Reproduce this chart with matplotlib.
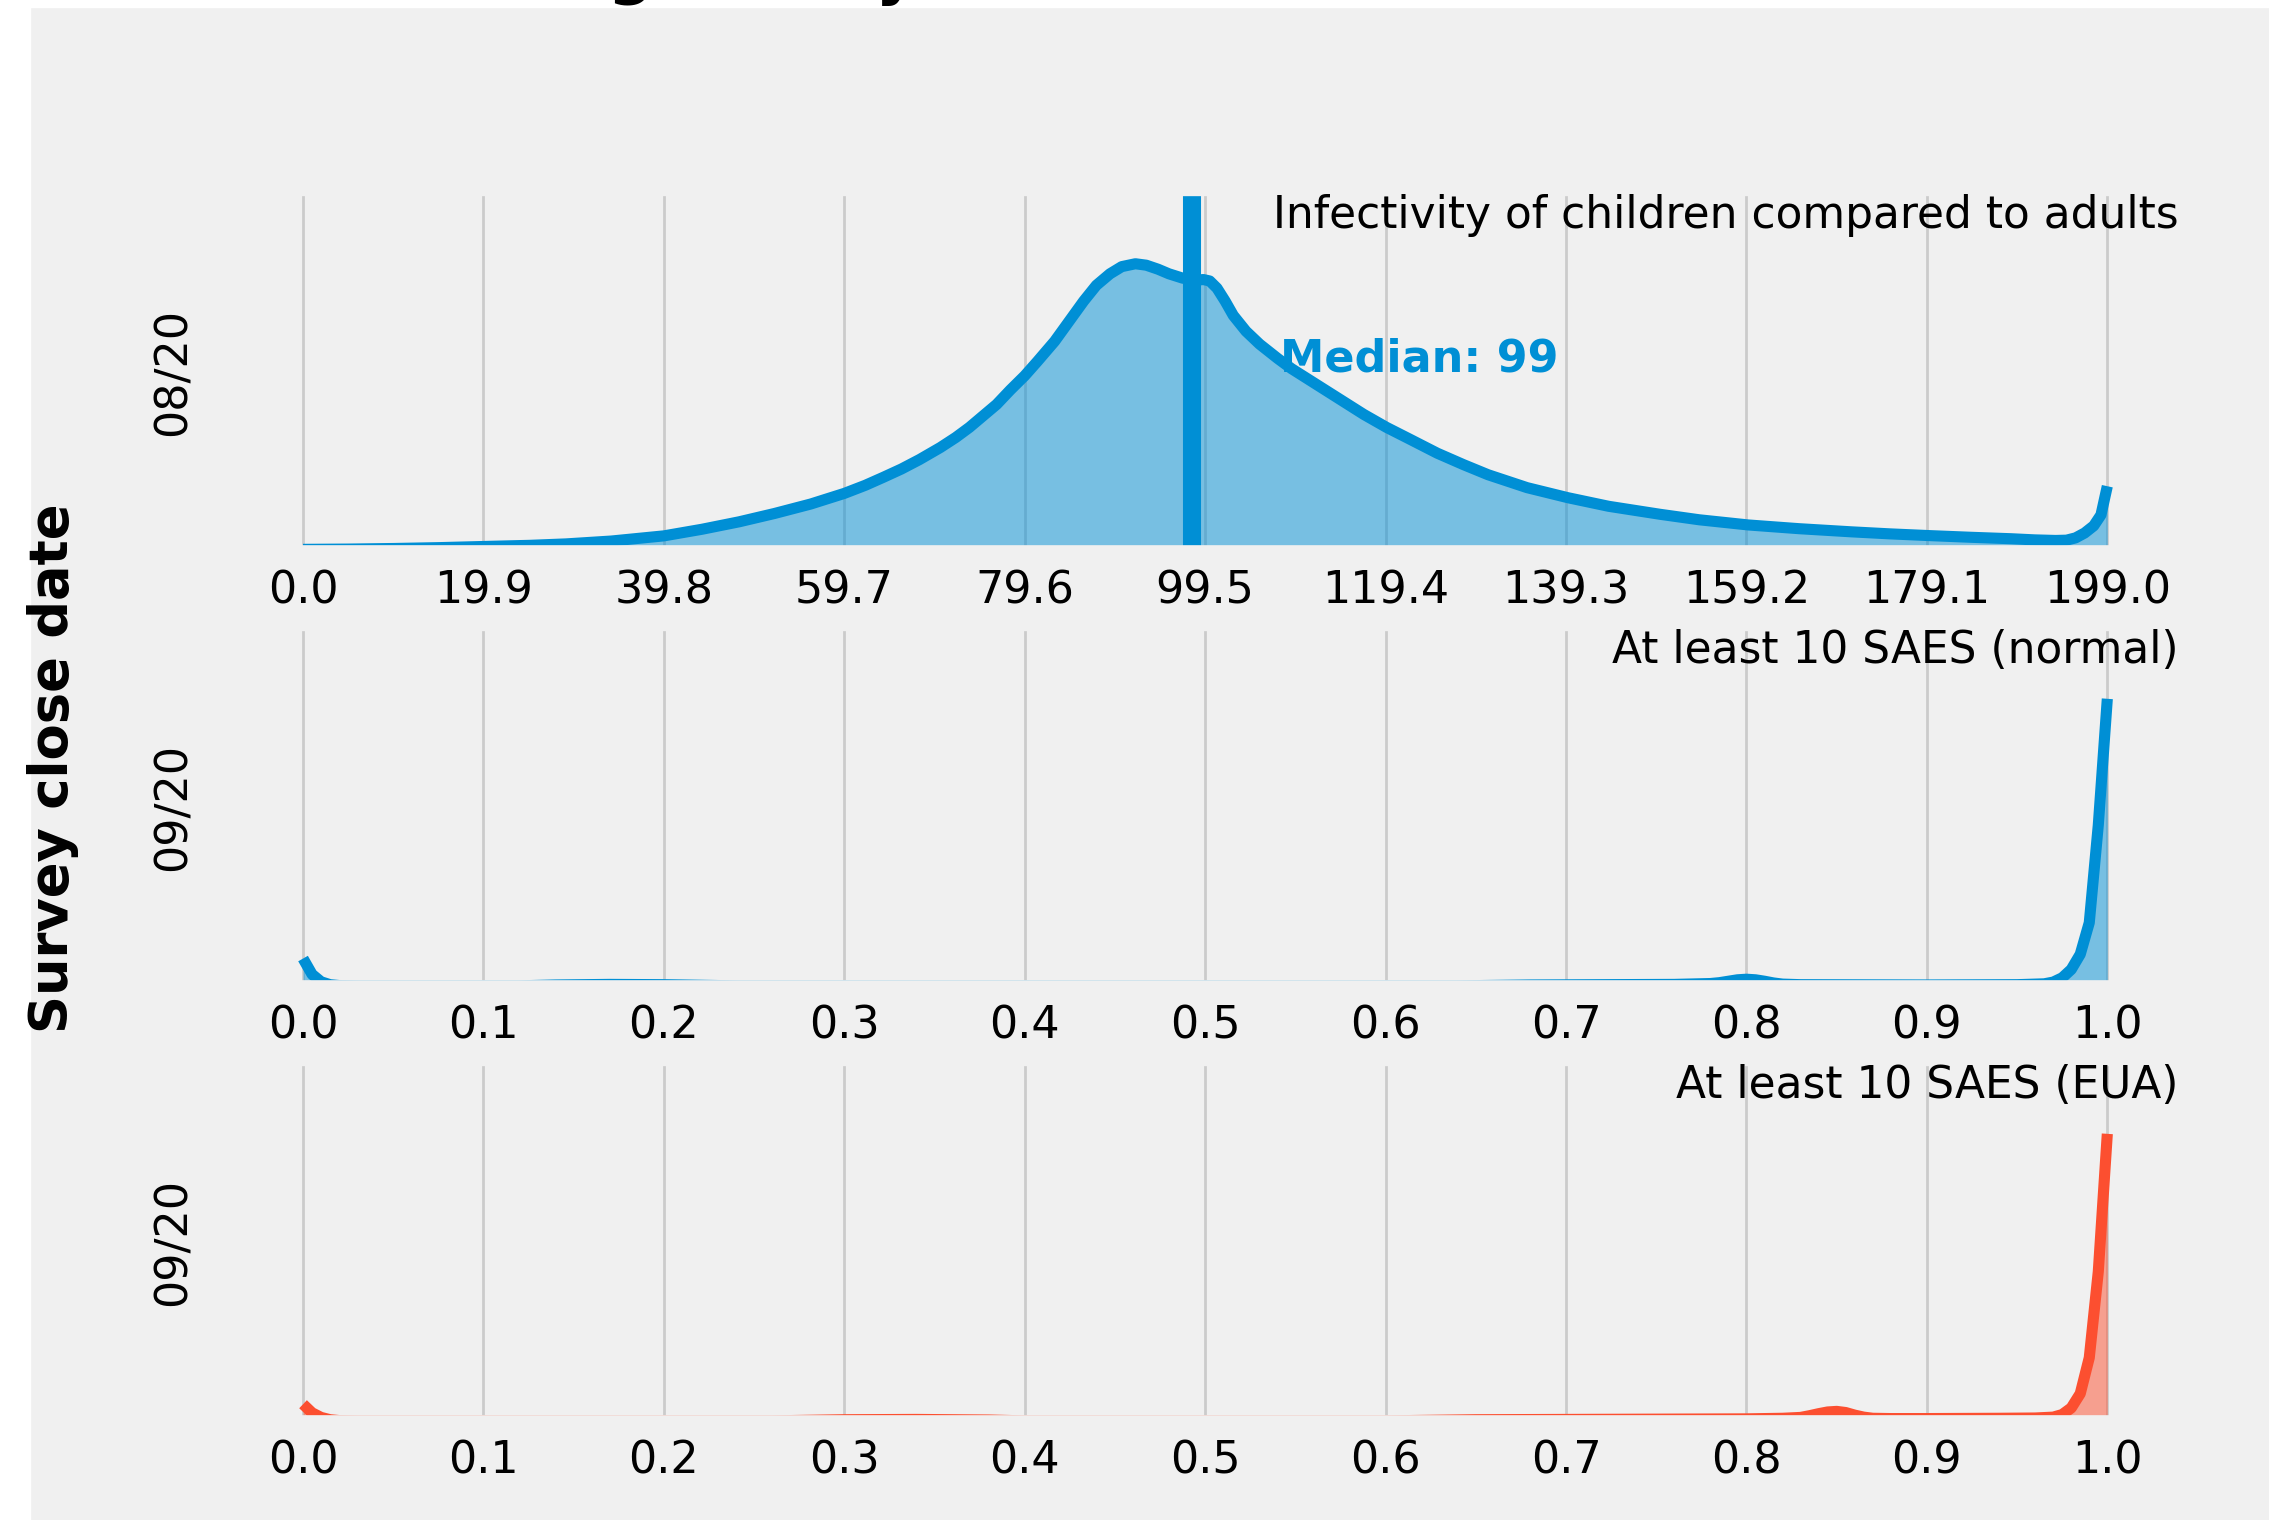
import matplotlib.pyplot as plt
from matplotlib.patches import Rectangle

plt.style.use("fivethirtyeight")

# survey rows (top to bottom)
row_labels = ["08/20", "09/20", "09/20"]
panel_titles = [
    "Infectivity of children compared to adults",
    "At least 10 SAES (normal)",
    "At least 10 SAES (EUA)",
]
row_colors = ["#008fd5", "#008fd5", "#fc4f30"]

# density curves, scaled so the highest point of each row is 1.0
infect_x = [0, 5, 10, 15, 19.9, 25, 29, 34, 39.8, 44, 48.1, 52, 56, 59.7, 62, 64,
            66, 68, 70.3, 72, 73.5, 75, 76.5, 78, 79.6, 81, 82.9, 84.5, 86.1,
            87.5, 89, 90.3, 91.8, 93, 94.3, 95.5, 97, 98.3, 99.3, 100, 100.8,
            101.7, 102.6, 104, 105.5, 107.5, 109, 111, 114.5, 117, 119.5, 122,
            125.1, 128, 130.7, 135, 139.5, 144, 149.7, 154, 159.4, 165, 170.8,
            175, 179.3, 184, 188.4, 191, 193.3, 194.5, 195.5, 196.5, 197.5,
            198.3, 199]
infect_y = [0.005, 0.006, 0.008, 0.011, 0.015, 0.019, 0.024, 0.034, 0.052, 0.075,
            0.101, 0.13, 0.163, 0.2, 0.228, 0.256, 0.285, 0.318, 0.36, 0.395,
            0.43, 0.47, 0.51, 0.56, 0.61, 0.66, 0.73, 0.8, 0.87, 0.925, 0.965,
            0.99, 1.0, 0.995, 0.981, 0.965, 0.95, 0.942, 0.945, 0.94, 0.915,
            0.87, 0.82, 0.765, 0.72, 0.67, 0.635, 0.595, 0.525, 0.475, 0.43,
            0.39, 0.34, 0.3, 0.265, 0.22, 0.185, 0.155, 0.127, 0.108, 0.09,
            0.077, 0.066, 0.059, 0.053, 0.047, 0.042, 0.038, 0.036, 0.037,
            0.045, 0.062, 0.087, 0.125, 0.225]

saes_normal_x = [0, 0.005, 0.01, 0.015, 0.02, 0.03, 0.12, 0.14, 0.17, 0.2, 0.22,
                 0.24, 0.64, 0.68, 0.72, 0.76, 0.78, 0.785, 0.79, 0.795, 0.8,
                 0.805, 0.81, 0.815, 0.82, 0.83, 0.9, 0.95, 0.965, 0.97, 0.975,
                 0.98, 0.985, 0.99, 0.995, 1.0]
saes_normal_y = [0.095, 0.04, 0.014, 0.004, 0.001, 0, 0, 0.003, 0.005, 0.004,
                 0.002, 0, 0, 0.003, 0.004, 0.005, 0.008, 0.011, 0.016, 0.021,
                 0.023, 0.021, 0.016, 0.01, 0.006, 0.004, 0.003, 0.004, 0.007,
                 0.013, 0.028, 0.057, 0.11, 0.22, 0.56, 1.0]

saes_eua_x = [0, 0.005, 0.01, 0.015, 0.02, 0.03, 0.26, 0.3, 0.34, 0.38, 0.4, 0.6,
              0.65, 0.7, 0.75, 0.8, 0.82, 0.83, 0.835, 0.84, 0.845, 0.85, 0.855,
              0.86, 0.865, 0.87, 0.88, 0.9, 0.94, 0.96, 0.97, 0.975, 0.98, 0.985,
              0.99, 0.995, 1.0]
saes_eua_y = [0.058, 0.028, 0.012, 0.004, 0.001, 0, 0, 0.004, 0.005, 0.003, 0, 0,
              0.004, 0.005, 0.006, 0.007, 0.009, 0.012, 0.018, 0.025, 0.031,
              0.033, 0.029, 0.02, 0.013, 0.009, 0.008, 0.008, 0.009, 0.01,
              0.013, 0.022, 0.045, 0.095, 0.22, 0.52, 1.0]

infect_ticks = [0.0, 19.9, 39.8, 59.7, 79.6, 99.5, 119.4, 139.3, 159.2, 179.1, 199.0]
share_ticks = [0.0, 0.1, 0.2, 0.3, 0.4, 0.5, 0.6, 0.7, 0.8, 0.9, 1.0]

median_value = 98.0
median_label = "Median: 99"

curves = [(infect_x, infect_y), (saes_normal_x, saes_normal_y), (saes_eua_x, saes_eua_y)]
tick_sets = [infect_ticks, share_ticks, share_ticks]

fig, axs = plt.subplots(nrows=3, ncols=1, figsize=(11.345, 7.6025), dpi=200)
fig.subplots_adjust(left=0.0938, right=0.9685, top=0.8734, bottom=0.0652, hspace=0.2125)

# white border strips left and top, like the saved original
fig.add_artist(Rectangle((0, 0), 30 / 2269, 1, transform=fig.transFigure,
                         color="white", zorder=0))
fig.add_artist(Rectangle((0, 1 - 8 / 1521), 1, 8 / 1521, transform=fig.transFigure,
                         color="white", zorder=0))

for ax, (xs, ys), color, title, label, ticks in zip(
    axs, curves, row_colors, panel_titles, row_labels, tick_sets
):
    ax.plot(xs, ys, color=color, lw=4)
    ax.fill_between(xs, ys, color=color, alpha=0.5, linewidth=0)
    ax.set_ylim(0, 1.25)
    ax.set_yticks([])
    ax.set_xticks(ticks)
    ax.set_xticklabels([f"{t:.1f}" for t in ticks])
    ax.tick_params(axis="x", labelsize=16, pad=6.5)
    ax.spines["bottom"].set_linewidth(4.2)
    ax.set_ylabel(label, fontsize=16, labelpad=6.5)
    ax.text(0.9905, 0.901, title, transform=ax.transAxes, ha="right",
            va="baseline", fontsize=15.8)

axs[0].axvline(median_value, color="#008fd5", lw=6.5)
axs[0].text(median_value * 1.1, 0.5, median_label, transform=axs[0].get_xaxis_transform(),
            color="#008fd5", fontsize=16, fontweight="bold", ha="left", va="baseline")

fig.text(27 / 2269, 0.495, "Survey close date", rotation=90, ha="left", va="center",
         fontsize=19, fontweight="bold")
fig.text(231 / 2269, 1 + 7.7 / 1521, "Forecasting survey", fontsize=23,
         fontweight="bold", ha="left", va="baseline")

fig.savefig("out.png", dpi=200)
